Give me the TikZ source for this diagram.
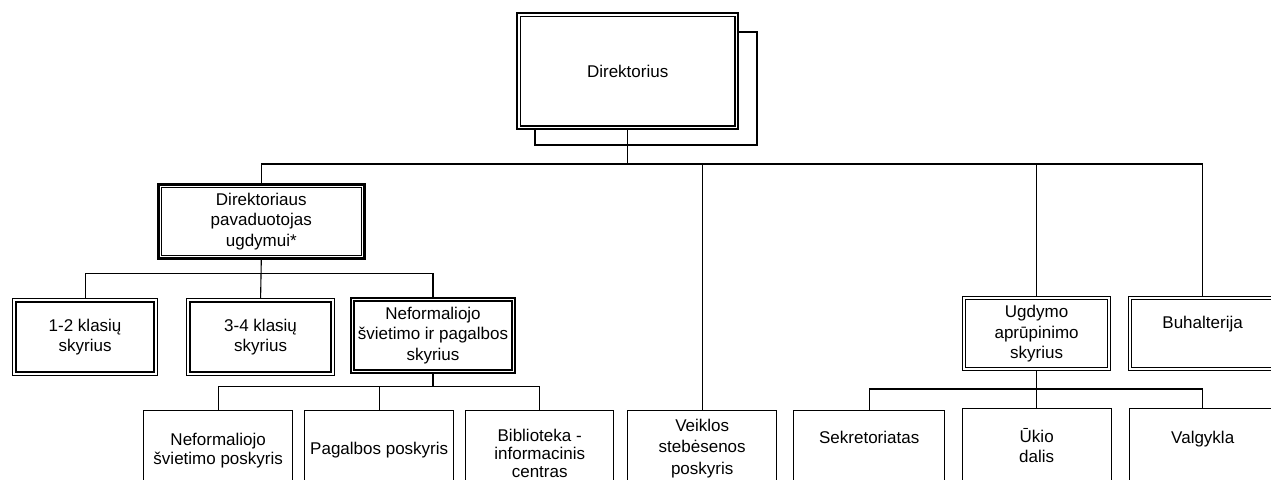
\documentclass[tikz,border=0pt]{standalone}
\usepackage{fontspec}
\setmainfont{Liberation Sans}
\newcommand\toptext[5]{\parbox[t][#2][t]{#1}{\fontsize{17}{#4}\selectfont\centering\vspace*{#3}\strut #5}}
\begin{document}
\begin{tikzpicture}[x=1pt,y=-1pt,
  box/.style={draw, fill=white, line width=1.4pt, anchor=north west, inner sep=0pt, align=center,
              font=\fontsize{17}{20.5}\selectfont},
  conn/.style={line width=1.1pt}]
\useasboundingbox (0,0) rectangle (1271,479);
\clip (0,0) rectangle (1271,479);
% shadow of the top box
\draw[line width=1.8pt] (535,32) rectangle (757,145);
% level 0
\node[box, line width=2.4pt, minimum width=221pt, minimum height=116pt] (dir) at (516,12) {Direktorius};
% level 1
\node[box, line width=2.6pt, minimum width=206pt, minimum height=74pt] (pav) at (157,183) {Direktoriaus\\pavaduotojas\\ugdymui*};
\node[box, line width=1.2pt, minimum width=148pt, minimum height=74pt] (ugd) at (962,296) {Ugdymo\\aprūpinimo\\skyrius};
\node[box, line width=1.2pt] (buh) at (1128,296) {\toptext{148pt}{74pt}{18pt}{20.5pt}{Buhalterija}};
% level 2
\node[box, line width=1.2pt, minimum width=145pt, minimum height=77pt] (k12) at (12,298) {1-2 klasių\\skyrius};
\node[box, line width=1.2pt, minimum width=148pt, minimum height=77pt] (k34) at (186,298) {3-4 klasių\\skyrius};
\node[box, line width=2pt, minimum width=164pt, minimum height=75pt] (nsk) at (350,297) {Neformaliojo\\švietimo ir pagalbos\\skyrius};
% bottom row
\node[box] (nfp) at (143,410) {\toptext{149pt}{80pt}{21pt}{19.5pt}{Neformaliojo\\švietimo poskyris}};
\node[box] (pag) at (304,410) {\toptext{149pt}{80pt}{29pt}{20.5pt}{Pagalbos poskyris}};
\node[box] (bib) at (465,410) {\toptext{148pt}{80pt}{18pt}{18pt}{Biblioteka -\\informacinis\\centras}};
\node[box] (vei) at (627,410) {\toptext{149pt}{80pt}{5.5pt}{21.5pt}{Veiklos\\stebėsenos\\poskyris}};
\node[box] (sek) at (793,410) {\toptext{151pt}{80pt}{18pt}{20.5pt}{Sekretoriatas}};
\node[box] (uki) at (961.5,408) {\toptext{149pt}{82pt}{20pt}{20pt}{Ūkio\\dalis}};
\node[box] (val) at (1129,408) {\toptext{146pt}{82pt}{20pt}{20.5pt}{Valgykla}};
% inner borders of double boxes
\foreach \n/\w/\s in {dir/1.2pt/4.5pt, pav/1.2pt/4.5pt, k12/1.8pt/4pt, k34/1.8pt/4pt,
                      nsk/1.1pt/4pt, ugd/1pt/3.5pt, buh/1pt/3.5pt}
  \draw[line width=\w] ([xshift=\s,yshift=-\s]\n.north west) rectangle ([xshift=-\s,yshift=\s]\n.south east);
% buses
\coordinate (b0) at (0,164);
\coordinate (b1) at (0,273.5);
\coordinate (b2) at (0,386.5);
\coordinate (b3) at (0,389);
% connectors from the director
\draw[conn] (dir.south) -- (dir.south |- b0);
\draw[conn] (pav.north) -- (pav.north |- b0) -- (buh.north |- b0) -- (buh.north);
\draw[conn] (vei.north) -- (vei.north |- b0);
\draw[conn] (ugd.north) -- (ugd.north |- b0);
% deputy's departments
\draw[conn] (pav.south) -- (k34.north);
\draw[conn] (k12.north) -- (k12.north |- b1) -- (nsk.north |- b1) -- (nsk.north);
% non-formal education sub-units
\draw[conn] (nsk.south) -- (nsk.south |- b2);
\draw[conn] (nfp.north) -- (nfp.north |- b2) -- (bib.north |- b2) -- (bib.north);
\draw[conn] (pag.north) -- (pag.north |- b2);
% support sub-units
\draw[conn] (ugd.south) -- (ugd.south |- uki.north);
\draw[conn] (sek.north) -- (sek.north |- b3) -- (val.north |- b3) -- (val.north);
\end{tikzpicture}
\end{document}
